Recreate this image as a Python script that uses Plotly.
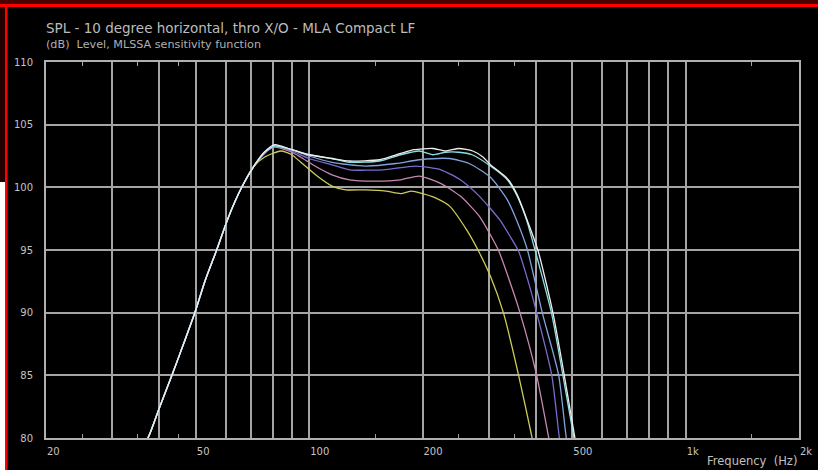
import math
import plotly.graph_objects as go

# ---------------- data ----------------
LOW_FREQ = [35, 37.3, 40, 43.2, 46.5, 49.7, 53, 56.8, 61, 66.2, 71]
LOW_DB = [79.0, 80.0, 82.4, 85.0, 87.6, 90.0, 92.6, 95.0, 97.6, 100.0, 101.6]

YELLOW_FREQ = [76, 84, 90, 95, 105, 115, 125, 141, 160, 175, 187, 200, 215, 236, 262, 283, 303, 328, 360, 391, 410]
YELLOW_DB = [102.4, 102.9, 102.6, 102.0, 100.9, 100.1, 99.8, 99.8, 99.7, 99.5, 99.7, 99.5, 99.2, 98.5, 96.6, 94.8, 92.9, 90.0, 85.0, 80.0, 77.0]

PINK_FREQ = [76, 81, 90, 95, 105, 115, 128, 150, 175, 196, 224, 252, 283, 318, 340, 363, 402, 433, 450]
PINK_DB = [102.7, 103.2, 102.8, 102.4, 101.6, 101.0, 100.6, 100.5, 100.6, 100.9, 100.3, 99.3, 97.7, 95.0, 92.6, 90.0, 85.0, 80.0, 77.5]

PURPLE_FREQ = [76, 81, 90, 100, 115, 128, 157, 192, 224, 252, 283, 321, 340, 360, 380, 402, 441, 462, 480]
PURPLE_DB = [102.7, 103.3, 102.9, 102.3, 101.8, 101.4, 101.4, 101.7, 101.4, 100.6, 99.3, 97.4, 96.2, 94.9, 92.7, 90.0, 85.0, 80.0, 77.0]

BLUE_FREQ = [76, 81, 90, 100, 115, 141, 170, 196, 236, 266, 303, 336, 362, 380, 416, 460, 482, 500]
BLUE_DB = [102.7, 103.3, 103.0, 102.5, 102.0, 101.7, 101.9, 102.2, 102.3, 101.9, 100.8, 99.0, 96.8, 95.0, 90.0, 85.0, 80.0, 77.5]

CYAN_FREQ = [76, 81, 90, 100, 115, 128, 154, 175, 196, 213, 230, 250, 271, 303, 336, 357, 378, 398, 440, 472, 505, 520]
CYAN_DB = [102.8, 103.3, 103.0, 102.6, 102.3, 102.0, 102.1, 102.6, 102.9, 102.6, 102.8, 102.8, 102.6, 101.7, 100.6, 99.3, 97.4, 95.0, 90.0, 85.0, 80.0, 78.0]

WHITE_FREQ = [76, 81, 90, 100, 115, 128, 154, 175, 190, 213, 230, 250, 272, 290, 303, 336, 357, 378, 405, 444, 476, 508, 525]
WHITE_DB = [102.8, 103.4, 103.0, 102.6, 102.3, 102.1, 102.2, 102.7, 103.0, 103.1, 102.9, 103.1, 102.9, 102.4, 101.8, 100.7, 99.4, 97.5, 95.0, 90.0, 85.0, 80.0, 77.5]

X_GRID = [20, 30, 40, 50, 60, 70, 80, 90, 100, 200, 300, 400, 500, 600, 700, 800, 900, 1000, 2000]
X_LABELS = {20: "20", 50: "50", 100: "100", 200: "200", 500: "500", 1000: "1k", 2000: "2k"}
X_MINOR = [25, 35, 45, 150, 250, 350, 1500]
Y_TICKS = [80, 85, 90, 95, 100, 105, 110]

TITLE = "SPL - 10 degree horizontal, thro X/O - MLA Compact LF"
SUBTITLE = "(dB)  Level, MLSSA sensitivity function"
X_TITLE = "Frequency  (Hz)"

series = [
    (YELLOW_FREQ, YELLOW_DB, "#cccc58"),
    (PINK_FREQ, PINK_DB, "#c888b0"),
    (PURPLE_FREQ, PURPLE_DB, "#7a6ccc"),
    (BLUE_FREQ, BLUE_DB, "#82a2dc"),
    (CYAN_FREQ, CYAN_DB, "#8ee0e0"),
    (WHITE_FREQ, WHITE_DB, "#eeeeee"),
]

# ---------------- layout geometry ----------------
W, H = 818, 470
ML, MR, MT, MB = 46, 19, 62, 32
PW, PH = W - ML - MR, H - MT - MB


def px_x(p):
    return (p - ML) / PW


def px_y(p):
    return 1 - (p - MT) / PH


fig = go.Figure()
for f, d, c in series:
    fig.add_trace(go.Scatter(
        x=LOW_FREQ + f, y=LOW_DB + d, mode="lines",
        line=dict(color=c, width=1.3, shape="spline", smoothing=0.6),
        hoverinfo="skip", showlegend=False,
    ))

FONT = "DejaVu Sans"
fig.update_layout(
    width=W, height=H,
    margin=dict(l=ML, r=MR, t=MT, b=MB, pad=0, autoexpand=False),
    paper_bgcolor="#000000", plot_bgcolor="#000000",
    showlegend=False,
    font=dict(family=FONT, color="#c4c4c4", size=10),
)
fig.update_xaxes(
    type="log", range=[math.log10(20), math.log10(2000)], automargin=False,
    tickmode="array", tickvals=X_GRID,
    ticktext=[X_LABELS.get(v, "") for v in X_GRID],
    ticklabelposition="outside right", ticks="", ticklabelstandoff=3,
    tickfont=dict(family=FONT, size=10, color="#c4c4c4"),
    showgrid=True, gridcolor="#a4a4a4", gridwidth=1.5,
    showline=True, linecolor="#b0b0b0", linewidth=2, mirror="allticks",
    minor=dict(tickvals=X_MINOR, ticks="inside", ticklen=4, tickcolor="#a0a0a0", tickwidth=1, showgrid=False),
    zeroline=False,
)
fig.update_yaxes(
    range=[80, 110], tickmode="array", tickvals=Y_TICKS, automargin=False,
    ticks="", ticklabelstandoff=9,
    tickfont=dict(family=FONT, size=10, color="#c4c4c4"),
    showgrid=True, gridcolor="#a4a4a4", gridwidth=1.5,
    showline=True, linecolor="#b0b0b0", linewidth=2, mirror=True,
    zeroline=False,
)

fig.add_annotation(text=TITLE, xref="paper", yref="paper", x=px_x(44), y=px_y(28),
                   xanchor="left", yanchor="middle", showarrow=False,
                   font=dict(family=FONT, size=13.5, color="#bcbcbc"))
fig.add_annotation(text=SUBTITLE, xref="paper", yref="paper", x=px_x(44), y=px_y(45),
                   xanchor="left", yanchor="middle", showarrow=False,
                   font=dict(family=FONT, size=11.2, color="#b0b0b0"))
fig.add_annotation(text=X_TITLE, xref="paper", yref="paper", x=px_x(799), y=px_y(461),
                   xanchor="right", yanchor="middle", showarrow=False,
                   font=dict(family=FONT, size=11.5, color="#c0c0c0"))

# frame decoration (page border of the screenshot)
shapes = [
    dict(type="rect", xref="paper", yref="paper", x0=px_x(0), x1=px_x(W), y0=px_y(0), y1=px_y(4),
         fillcolor="#4a0000", line_width=0, layer="above"),
    dict(type="rect", xref="paper", yref="paper", x0=px_x(0), x1=px_x(5), y0=px_y(4), y1=px_y(182),
         fillcolor="#220000", line_width=0, layer="above"),
    dict(type="rect", xref="paper", yref="paper", x0=px_x(0), x1=px_x(5), y0=px_y(182), y1=px_y(H),
         fillcolor="#ffffff", line_width=0, layer="above"),
    dict(type="rect", xref="paper", yref="paper", x0=px_x(0), x1=px_x(W), y0=px_y(4), y1=px_y(7),
         fillcolor="#ff0000", line_width=0, layer="above"),
    dict(type="rect", xref="paper", yref="paper", x0=px_x(5), x1=px_x(7.5), y0=px_y(4), y1=px_y(H),
         fillcolor="#ff0000", line_width=0, layer="above"),
]
fig.update_layout(shapes=shapes)

fig.write_html(
    "out.html",
    config={"displayModeBar": False},
    post_script="document.body.style.margin='0';document.body.style.overflow='hidden';",
)
